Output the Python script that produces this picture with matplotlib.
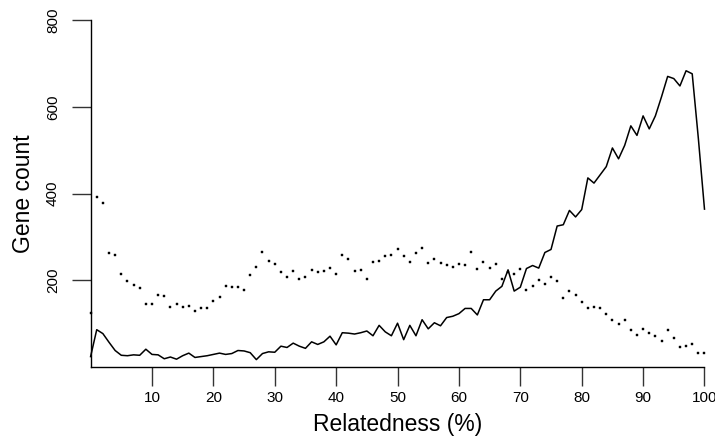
import numpy as np
import matplotlib.pyplot as plt

plt.rcParams['font.family'] = ['Liberation Sans', 'DejaVu Sans']

# Relatedness bins (%) and gene counts for the two series
relatedness = np.arange(0, 101)

counts_solid = [
    24, 86, 77, 57, 38, 27, 26, 28, 27, 41,
    29, 28, 19, 23, 18, 26, 32, 22, 24, 26,
    29, 32, 29, 31, 38, 37, 33, 17, 31, 35,
    34, 48, 45, 55, 48, 43, 58, 52, 58, 71,
    51, 79, 78, 76, 79, 83, 72, 96, 81, 72,
    101, 63, 96, 72, 109, 88, 102, 95, 114, 117,
    123, 135, 135, 120, 155, 155, 175, 186, 224, 175,
    184, 227, 234, 228, 264, 271, 325, 328, 361, 346,
    363, 436, 424, 443, 462, 505, 480, 511, 556, 534,
    579, 549, 579, 623, 670, 665, 648, 683, 676, 527,
    364,
]

counts_dotted = [
    124, 391, 377, 263, 258, 215, 198, 190, 182, 145,
    146, 167, 164, 138, 145, 138, 141, 130, 135, 137,
    152, 162, 187, 184, 184, 178, 211, 231, 264, 244,
    237, 218, 208, 221, 204, 208, 224, 218, 221, 229,
    215, 258, 248, 221, 224, 204, 243, 245, 255, 258,
    273, 257, 241, 262, 275, 239, 249, 239, 236, 231,
    238, 235, 266, 227, 241, 229, 238, 204, 218, 215,
    227, 178, 187, 201, 191, 207, 198, 158, 175, 166,
    151, 137, 138, 135, 122, 108, 99, 108, 85, 73,
    87, 78, 72, 59, 85, 67, 46, 49, 52, 33,
    33,
]

fig = plt.figure(figsize=(7.15, 4.42), dpi=100)
ax = fig.add_axes([0.1267, 0.1697, 0.8586, 0.785])

ax.plot(relatedness, counts_solid, color='black', lw=1.1, clip_on=False)
ax.plot(relatedness, counts_dotted, linestyle='none', marker='s', ms=1.5,
        mew=0.3, mec='black', mfc='black', clip_on=False)

ax.set_xlim(0, 100)
ax.set_ylim(0, 800)
ax.set_xticks(np.arange(10, 101, 10))
ax.set_yticks([200, 400, 600, 800])

ax.spines['top'].set_visible(False)
ax.spines['right'].set_visible(False)
for s in ('left', 'bottom'):
    ax.spines[s].set_linewidth(1.0)

ax.tick_params(axis='both', direction='out', length=14, width=1.0,
               labelsize=11, color='#333333')
ax.tick_params(axis='x', pad=3)
ax.tick_params(axis='y', pad=8, labelrotation=90)
for lbl in ax.get_yticklabels():
    lbl.set_va('center')

ax.set_xlabel('Relatedness (%)', fontsize=16.5, labelpad=6)
ax.set_ylabel('Gene count', fontsize=16.5, labelpad=8)

plt.savefig('out.png', dpi=100)
